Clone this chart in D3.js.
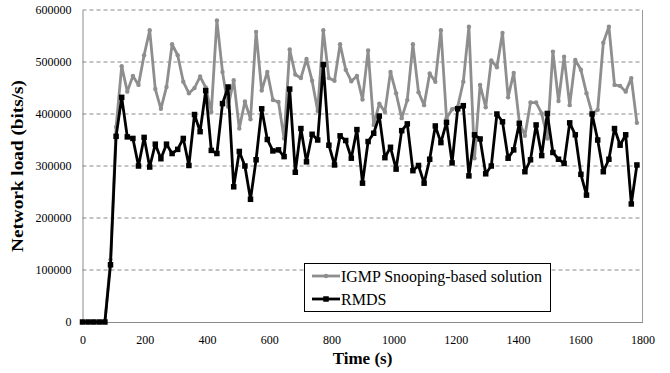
<!DOCTYPE html>
<html><head><meta charset="utf-8">
<script src="https://cdn.jsdelivr.net/npm/d3@7"></script>
<style>
html,body{margin:0;padding:0;background:#fff;}
svg{display:block;font-family:"Liberation Serif","Times New Roman",serif;}
</style></head>
<body>
<svg id="chart" width="670" height="373"></svg>
<script>
const times = [0,18,36,54,72,90,108,126,144,162,180,198,216,234,252,270,288,306,324,342,360,378,396,414,432,450,468,486,504,522,540,558,576,594,612,630,648,666,684,702,720,738,756,774,792,810,828,846,864,882,900,918,936,954,972,990,1008,1026,1044,1062,1080,1098,1116,1134,1152,1170,1188,1206,1224,1242,1260,1278,1296,1314,1332,1350,1368,1386,1404,1422,1440,1458,1476,1494,1512,1530,1548,1566,1584,1602,1620,1638,1656,1674,1692,1710,1728,1746,1764,1782];
const igmp = [0,0,0,0,0,120000,375000,492000,443000,473000,456000,513000,561000,448000,410000,452000,534000,513000,462000,440000,450000,472000,451000,404000,580000,481000,414000,465000,372000,424000,390000,558000,445000,481000,427000,423000,353000,524000,476000,469000,506000,464000,406000,561000,469000,464000,534000,485000,463000,473000,428000,522000,379000,420000,404000,481000,440000,392000,427000,534000,442000,417000,478000,462000,561000,392000,409000,414000,462000,568000,315000,456000,413000,503000,490000,556000,432000,479000,385000,358000,422000,422000,401000,353000,520000,425000,510000,417000,504000,485000,440000,401000,408000,537000,568000,456000,454000,443000,469000,383000];
const rmds = [0,0,0,0,0,110000,357000,432000,356000,353000,300000,355000,298000,342000,314000,342000,324000,332000,353000,301000,399000,366000,445000,330000,324000,420000,452000,260000,328000,300000,236000,312000,410000,351000,329000,331000,318000,448000,288000,372000,308000,361000,350000,495000,340000,302000,358000,349000,315000,370000,267000,347000,363000,396000,316000,336000,294000,368000,381000,291000,301000,267000,313000,377000,345000,384000,306000,410000,416000,281000,360000,352000,285000,300000,400000,385000,315000,331000,382000,289000,312000,379000,320000,401000,326000,313000,305000,383000,360000,284000,244000,400000,350000,289000,313000,372000,340000,360000,227000,302000];
const xTicks = [0,200,400,600,800,1000,1200,1400,1600,1800];
const yTicks = [0,100000,200000,300000,400000,500000,600000];
const seriesNames = ["IGMP Snooping-based solution","RMDS"];

const svg = d3.select("#chart");
const L = 82.5, R = 642.5, T = 10, B = 322;
const x = d3.scaleLinear().domain([0,1800]).range([L,R]);
const y = d3.scaleLinear().domain([0,600000]).range([B,T]);

// gridlines
svg.append("g").selectAll("line").data(yTicks.filter(d=>d>0)).join("line")
  .attr("x1",L).attr("x2",R).attr("y1",d=>y(d)).attr("y2",d=>y(d))
  .attr("stroke","#8a8a8a").attr("stroke-width",1).attr("stroke-dasharray","4,3");
// frame right
svg.append("line").attr("x1",R).attr("x2",R).attr("y1",T).attr("y2",B).attr("stroke","#9a9a9a");

// axes
const xAxis = d3.axisBottom(x).tickValues(xTicks).tickSize(0).tickPadding(13).tickFormat(d3.format("d"));
const gx = svg.append("g").attr("transform",`translate(0,${B})`).call(xAxis);
gx.select(".domain").attr("stroke","#8a8a8a");
gx.selectAll("text").attr("font-size","12px").attr("fill","#000").attr("font-family","Liberation Serif");

const yAxis = d3.axisLeft(y).tickValues(yTicks).tickSize(0).tickPadding(11).tickFormat(d3.format("d"));
const gy = svg.append("g").attr("transform",`translate(${L},0)`).call(yAxis);
gy.select(".domain").attr("stroke","#8a8a8a");
gy.selectAll("text").attr("font-size","12px").attr("fill","#000").attr("font-family","Liberation Serif");

// lines
const line = d3.line().x((d,i)=>x(times[i])).y(d=>y(d));
svg.append("path").datum(igmp).attr("d",line).attr("fill","none")
  .attr("stroke","#8e8e8e").attr("stroke-width",2.8).attr("stroke-linejoin","round");
svg.append("g").selectAll("circle").data(igmp).join("circle")
  .attr("cx",(d,i)=>x(times[i])).attr("cy",d=>y(d)).attr("r",2.2).attr("fill","#8e8e8e");

svg.append("path").datum(rmds).attr("d",line).attr("fill","none")
  .attr("stroke","#000").attr("stroke-width",2.8).attr("stroke-linejoin","round");
svg.append("g").selectAll("rect").data(rmds).join("rect")
  .attr("x",(d,i)=>x(times[i])-2.75).attr("y",d=>y(d)-2.75).attr("width",5.5).attr("height",5.5).attr("fill","#000");

// legend
const lg = svg.append("g");
lg.append("rect").attr("x",304.5).attr("y",263.5).attr("width",246).attr("height",48)
  .attr("fill","#fff").attr("stroke","#000").attr("stroke-width",1);
lg.append("line").attr("x1",312).attr("x2",340).attr("y1",276).attr("y2",276).attr("stroke","#8e8e8e").attr("stroke-width",2.8);
lg.append("circle").attr("cx",326).attr("cy",276).attr("r",2.2).attr("fill","#8e8e8e");
lg.append("line").attr("x1",312).attr("x2",340).attr("y1",299).attr("y2",299).attr("stroke","#000").attr("stroke-width",2.8);
lg.append("rect").attr("x",323.25).attr("y",296.25).attr("width",5.5).attr("height",5.5).attr("fill","#000");
lg.append("text").attr("x",341).attr("y",281.5).attr("font-size","16px").attr("textLength",201).attr("lengthAdjust","spacingAndGlyphs").text(seriesNames[0]);
lg.append("text").attr("x",341).attr("y",304.5).attr("font-size","16px").text(seriesNames[1]);

// titles
svg.append("text").attr("x",(L+R)/2).attr("y",364).attr("text-anchor","middle")
  .attr("font-size","17px").attr("font-weight","bold").text("Time (s)");
svg.append("text").attr("transform",`translate(23,${(T+B)/2}) rotate(-90)`).attr("text-anchor","middle")
  .attr("font-size","17px").attr("font-weight","bold").attr("textLength",172).attr("lengthAdjust","spacingAndGlyphs").text("Network load (bits/s)");
</script>
</body></html>
